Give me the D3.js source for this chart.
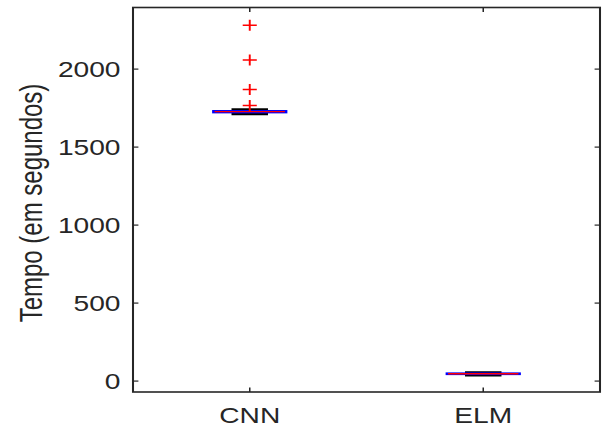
<!DOCTYPE html>
<html><head><meta charset="utf-8">
<script src="https://cdn.jsdelivr.net/npm/d3@7"></script>
<style>html,body{margin:0;padding:0;background:#fff;}svg{display:block;}</style>
</head><body>
<script>
const categories = ["CNN", "ELM"];
const medians = [1727, 47];
const q1 = [1722, 44];
const q3 = [1732, 50];
const whiskerLow = [1712, 37];
const whiskerHigh = [1742, 56];
const outliers = [[2282, 2058, 1870, 1767], []];
const yTicks = [0, 500, 1000, 1500, 2000];
const yLabel = "Tempo (em segundos)";

(function () {
const W = 602, H = 426, sx = 1.28;
const pLeft = 133 / sx, pRight = 600 / sx, pTop = 7.5, pBottom = 392;
const axisColor = "#262626";

const svg = d3.select("body").append("svg").attr("width", W).attr("height", H);
const g = svg.append("g").attr("transform", `scale(${sx},1)`);

const x = d3.scaleLinear().domain([0.5, 2.5]).range([pLeft, pRight]);
const y = d3.scaleLinear().domain([-70, 2395]).range([pBottom, pTop]);

const boxW = 57, capW = 28.5;
categories.forEach((c, i) => {
  const cx = x(i + 1);
  g.append("line").attr("x1", cx).attr("x2", cx).attr("y1", y(q3[i])).attr("y2", y(whiskerHigh[i]))
    .attr("stroke", "#000").attr("stroke-width", 1.5).attr("stroke-dasharray", "4,3");
  g.append("line").attr("x1", cx).attr("x2", cx).attr("y1", y(q1[i])).attr("y2", y(whiskerLow[i]))
    .attr("stroke", "#000").attr("stroke-width", 1.5).attr("stroke-dasharray", "4,3");
  [whiskerHigh[i], whiskerLow[i]].forEach(v => {
    g.append("line").attr("x1", cx - capW / 2).attr("x2", cx + capW / 2).attr("y1", y(v)).attr("y2", y(v))
      .attr("stroke", "#000").attr("stroke-width", 2.2);
  });
  g.append("rect").attr("x", cx - boxW / 2).attr("width", boxW)
    .attr("y", y(q3[i])).attr("height", Math.max(0.5, y(q1[i]) - y(q3[i])))
    .attr("fill", "none").attr("stroke", "#0000ff").attr("stroke-width", 1.8);
  g.append("line").attr("x1", cx - boxW / 2 + 1).attr("x2", cx + boxW / 2 - 1)
    .attr("y1", y(medians[i])).attr("y2", y(medians[i]))
    .attr("stroke", "#ff0000").attr("stroke-width", 1.3);
  outliers[i].forEach(v => {
    const py = y(v), s = 5.5;
    g.append("path").attr("d", `M${cx - s},${py}H${cx + s}M${cx},${py - s}V${py + s}`)
      .attr("stroke", "#ff0000").attr("stroke-width", 1.5).attr("fill", "none");
  });
});

g.append("rect").attr("x", pLeft).attr("y", pTop).attr("width", pRight - pLeft).attr("height", pBottom - pTop)
  .attr("fill", "none").attr("stroke", axisColor).attr("stroke-width", 1.6);

const tl = 4.5;
yTicks.forEach(t => {
  const py = y(t);
  g.append("line").attr("x1", pLeft).attr("x2", pLeft + tl / sx * 1.2).attr("y1", py).attr("y2", py)
    .attr("stroke", axisColor).attr("stroke-width", 1.2);
  g.append("line").attr("x1", pRight).attr("x2", pRight - tl / sx * 1.2).attr("y1", py).attr("y2", py)
    .attr("stroke", axisColor).attr("stroke-width", 1.2);
  g.append("text").attr("x", 120.5 / sx).attr("y", py).attr("dy", "0.36em")
    .attr("text-anchor", "end").attr("font-family", "Liberation Sans, Arial, sans-serif")
    .attr("font-size", 22).attr("fill", axisColor).text(t);
});

categories.forEach((c, i) => {
  const px = x(i + 1);
  g.append("line").attr("x1", px).attr("x2", px).attr("y1", pBottom).attr("y2", pBottom - tl)
    .attr("stroke", axisColor).attr("stroke-width", 1.2);
  g.append("line").attr("x1", px).attr("x2", px).attr("y1", pTop).attr("y2", pTop + tl)
    .attr("stroke", axisColor).attr("stroke-width", 1.2);
  g.append("text").attr("x", px).attr("y", 423)
    .attr("text-anchor", "middle").attr("font-family", "Liberation Sans, Arial, sans-serif")
    .attr("font-size", 22).attr("fill", axisColor).text(c);
});

g.append("text").attr("transform", `translate(${42 / sx},203) rotate(-90)`)
  .attr("text-anchor", "middle").attr("font-family", "Liberation Sans, Arial, sans-serif")
  .attr("font-size", 24).attr("fill", axisColor).text(yLabel);
})();
</script>
</body></html>
